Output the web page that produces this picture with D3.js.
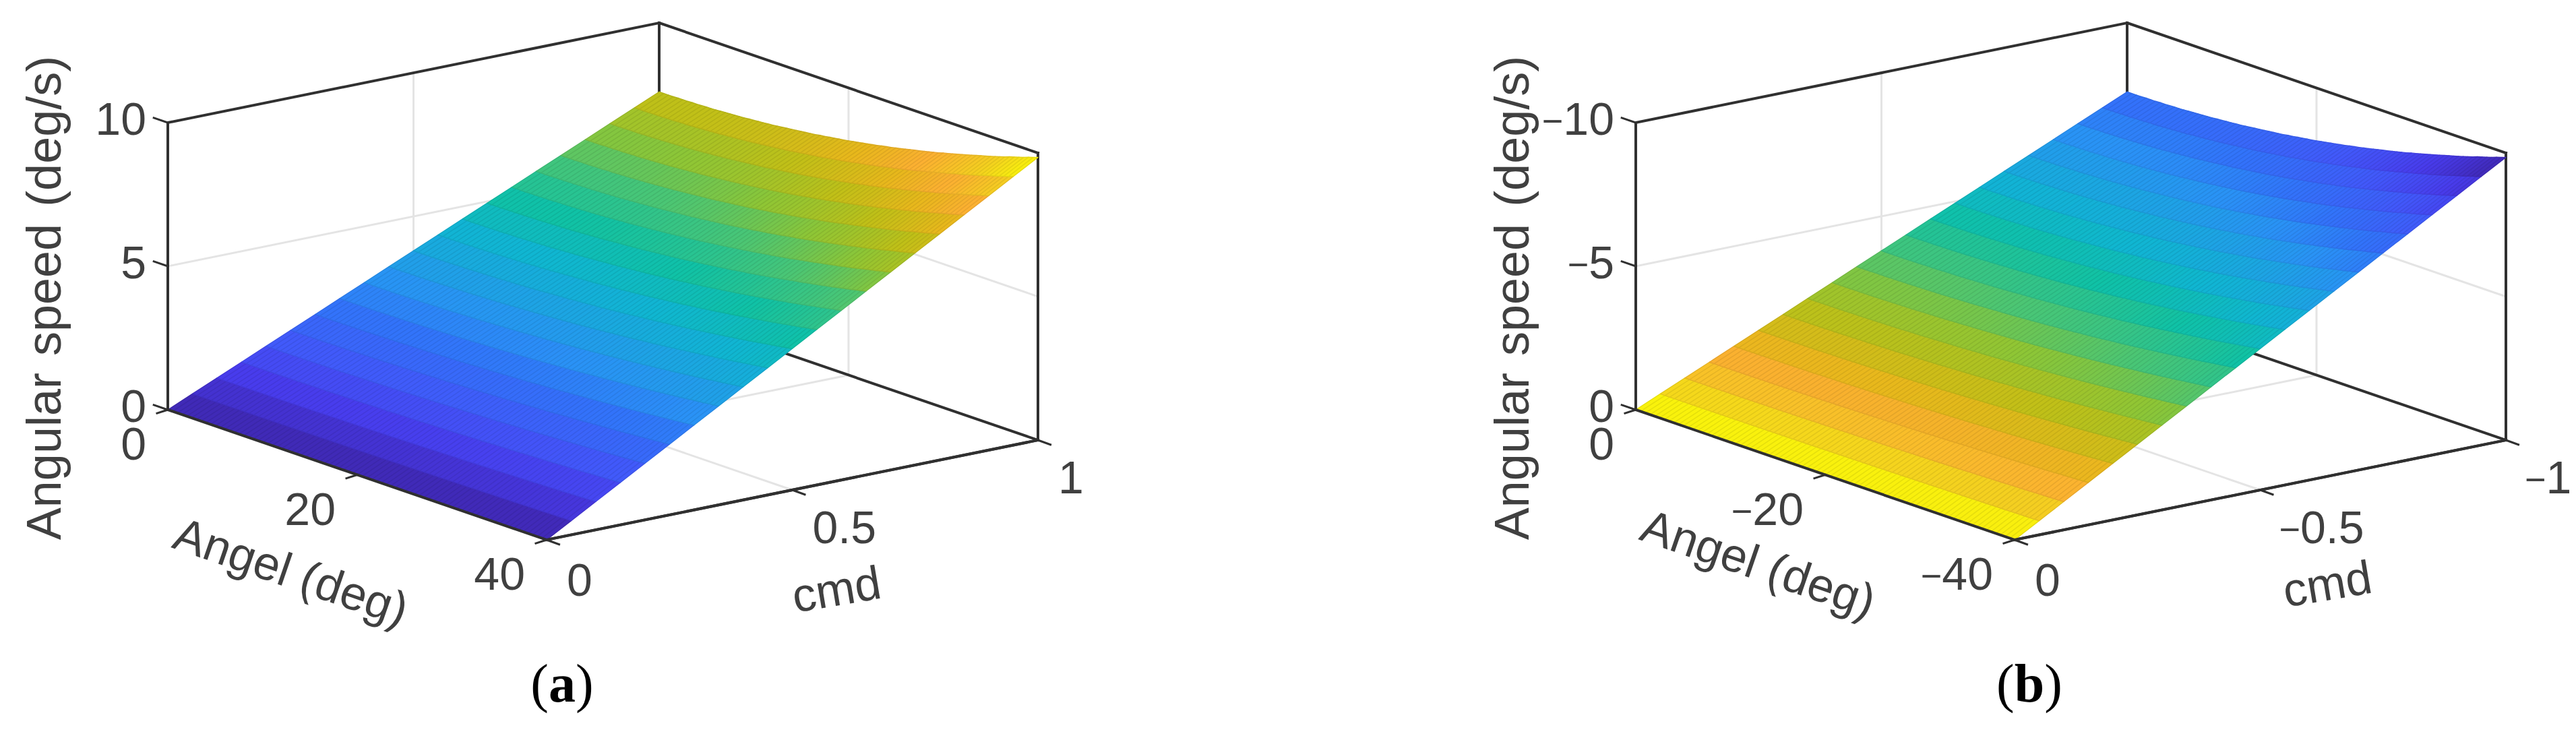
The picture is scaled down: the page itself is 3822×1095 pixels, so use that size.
<!DOCTYPE html>
<html><head><meta charset="utf-8">
<script src="https://cdn.jsdelivr.net/npm/d3@7"></script>
<style>html,body{margin:0;padding:0;background:#fff}svg{display:block}</style>
</head><body><svg id="c" width="3822" height="1095"></svg>
<script>
// ---------- data ----------
const cmdStations = [0,0.05,0.1,0.15,0.2,0.25,0.3,0.35,0.4,0.45,0.5,0.55,0.6,0.65,0.7,0.75,0.8,0.85,0.9,0.95,1];
const angleStations = [0,0.5,1,1.5,2,2.5,3,3.5,4,4.5,5,5.5,6,6.5,7,7.5,8,8.5,9,9.5,10,10.5,11,11.5,12,12.5,13,13.5,14,14.5,15,15.5,16,16.5,17,17.5,18,18.5,19,19.5,20,20.5,21,21.5,22,22.5,23,23.5,24,24.5,25,25.5,26,26.5,27,27.5,28,28.5,29,29.5,30,30.5,31,31.5,32,32.5,33,33.5,34,34.5,35,35.5,36,36.5,37,37.5,38,38.5,39,39.5,40];
// angular speed along the far edge (|cmd| = 1) at each angle station
const speedAtFullCmd = [7.60,7.60,7.60,7.60,7.61,7.61,7.61,7.62,7.62,7.63,7.64,7.64,7.65,7.66,7.67,7.68,7.69,7.70,7.71,7.73,7.74,7.76,7.77,7.79,7.80,7.82,7.84,7.86,7.88,7.90,7.92,7.94,7.96,7.98,8.01,8.03,8.06,8.08,8.11,8.13,8.16,8.19,8.22,8.25,8.28,8.31,8.34,8.38,8.41,8.44,8.48,8.51,8.55,8.59,8.63,8.66,8.70,8.74,8.78,8.82,8.87,8.91,8.95,9.00,9.04,9.09,9.13,9.18,9.23,9.27,9.32,9.37,9.42,9.47,9.53,9.58,9.63,9.68,9.74,9.79,9.85];
const angleTicksA = [0,20,40], cmdTicksA = [0,0.5,1], speedTicksA = [0,5,10];
const angleTicksB = [0,-20,-40], cmdTicksB = [0,-0.5,-1], speedTicksB = [0,-5,-10];
const colormapStops = [0,0.03,0.096,0.167,0.255,0.32,0.39,0.45,0.526,0.617,0.686,0.755,0.82,0.87,0.93,0.97,1];
const colormapColors = ["#3f27ad","#412bbc","#483cec","#4258fa","#3274fa","#2a92f6","#1ca6e2","#10b6d2","#10c2a6","#4cc674","#8ec636","#c0c018","#e8b81c","#fcb032","#f4d020","#f8ec10","#fcfc06"];
const yTitle = "Angular speed (deg/s)", xTitle = "Angel (deg)", cTitle = "cmd";

// ---------- drawing ----------
const svg = d3.select("#c");
const fontSans = "'Liberation Sans',Arial,sans-serif";
const tickCol = "#404040", frameCol = "#303030", gridCol = "#e4e4e4";

function panel(o){
  const g = svg.append("g").attr("transform", `translate(${o.dx},0)`);
  const s = o.sign;
  // oblique projection: each data axis contributes a screen x and y
  const axX = d3.scaleLinear().domain([0, s*40]).range([0, 562]);
  const axY = d3.scaleLinear().domain([0, s*40]).range([0, 193]);
  const cmX = d3.scaleLinear().domain([0, s*1]).range([0, 729]);
  const cmY = d3.scaleLinear().domain([0, s*1]).range([0, -148]);
  const zY  = d3.scaleLinear().domain([0, s*10]).range([0, -426]);
  const P = (a,c,z) => [249 + axX(a) + cmX(c), 608 + axY(a) + cmY(c) + zY(z)];
  const A = s*40, C = s*1, Z = s*10;
  const line = (p,q,col,w) => g.append("line").attr("x1",p[0]).attr("y1",p[1]).attr("x2",q[0]).attr("y2",q[1])
      .attr("stroke",col).attr("stroke-width",w).attr("stroke-linecap","square");

  // grid
  o.zTicks.filter(t=>t!==0 && t!==Z).forEach(t=>{ line(P(0,0,t),P(0,C,t),gridCol,3); line(P(0,C,t),P(A,C,t),gridCol,3); });
  o.cTicks.filter(t=>t!==0 && t!==C).forEach(t=>{ line(P(0,t,0),P(0,t,Z),gridCol,3); line(P(0,t,0),P(A,t,0),gridCol,3); });
  o.aTicks.filter(t=>t!==0 && t!==A).forEach(t=>{ line(P(t,0,0),P(t,C,0),gridCol,3); line(P(t,C,0),P(t,C,Z),gridCol,3); });

  // box lines behind surface
  [[P(0,0,Z),P(0,C,Z)],[P(0,C,Z),P(A,C,Z)],[P(0,C,0),P(0,C,Z)],[P(A,C,0),P(A,C,Z)],[P(0,0,0),P(0,0,Z)],
   [P(0,C,0),P(A,C,0)],[P(A,0,0),P(A,C,0)]].forEach(l=>line(l[0],l[1],frameCol,4));

  // surface
  const t = d3.scaleLinear().domain(o.zDomain).range([0,1]);
  const cm = d3.scaleLinear().domain(colormapStops).range(colormapColors).interpolate(d3.interpolateRgb);
  const surf = g.append("g").attr("stroke-width",1.4).attr("stroke-linejoin","round");
  const Zv = (i,j) => s * cmdStations[j] * speedAtFullCmd[i];
  for (let j=0;j<cmdStations.length-1;j++){
    for (let i=0;i<angleStations.length-1;i++){
      const a0=s*angleStations[i],a1=s*angleStations[i+1],c0=s*cmdStations[j],c1=s*cmdStations[j+1];
      const pts=[P(a0,c0,Zv(i,j)),P(a1,c0,Zv(i+1,j)),P(a1,c1,Zv(i+1,j+1)),P(a0,c1,Zv(i,j+1))];
      const col=d3.color(cm(t(d3.mean([Zv(i,j),Zv(i+1,j),Zv(i+1,j+1),Zv(i,j+1)]))));
      surf.append("polygon").attr("points",pts.join(" ")).attr("fill",col)
        .attr("stroke",col.darker(0.22).formatHex());
    }
  }

  // front axes
  line(P(0,0,0),P(A,0,0),frameCol,4);
  line(P(A,0,0),P(A,C,0),frameCol,4);
  // ticks
  o.zTicks.forEach(v=>{const p=P(0,0,v);line(p,[p[0]-axX(s*40)*0.037,p[1]-axY(s*40)*0.037],frameCol,3);});
  o.aTicks.forEach(v=>{const p=P(v,0,0);line(p,[p[0]-cmX(s)*0.022,p[1]-cmY(s)*0.035],frameCol,3);});
  o.cTicks.forEach(v=>{const p=P(A,v,0);line(p,[p[0]+axX(s*40)*0.033,p[1]+axY(s*40)*0.035],frameCol,3);});

  // tick label: a negative number gets the short minus of the source figure
  const tick=(x,y,v,anchor)=>{
    const e=g.append("text").attr("x",x).attr("y",y+24).attr("text-anchor",anchor)
      .attr("font-family",fontSans).attr("font-size",68).attr("fill",tickCol);
    if(v<0){
      e.append("tspan").attr("font-size",54).attr("dy",-2).text("\u2212");
      e.append("tspan").attr("dy",2).text(String(-v));
    } else e.text(String(v));
  };
  o.zTicks.forEach(v=>{const p=P(0,0,v);tick(p[0]-32,p[1]-6,v,"end");});
  o.aTicks.forEach(v=>{const p=P(v,0,0);tick(p[0]-32,p[1]+50,v,"end");});
  o.cTicks.forEach(v=>{const p=P(A,v,0);tick(p[0]+(v<0?28:30),p[1]+(v===0?59:55),v,"start");});

  const text=(x,y,str,anchor,size,rot)=>g.append("text").attr("x",x).attr("y",y).attr("text-anchor",anchor)
      .attr("font-family",fontSans).attr("font-size",size).attr("fill",tickCol)
      .attr("transform",`rotate(${rot} ${x} ${y})`).text(str);
  text(o.yx,442,yTitle,"middle",72,-90).attr("word-spacing",5);
  text(o.ax,o.ay,xTitle,"start",70,19);
  text(o.cx,o.cy,cTitle,"middle",70,-9.5);

  const cap=g.append("text").attr("x",o.capx).attr("y",1041).attr("text-anchor","middle")
    .attr("font-family","'Liberation Serif',serif").attr("font-size",80).attr("fill","#000");
  cap.append("tspan").text("(");
  cap.append("tspan").attr("font-weight","bold").text(o.cap);
  cap.append("tspan").text(")");
}

panel({dx:0,sign:1,zDomain:[0,9.85],aTicks:angleTicksA,cTicks:cmdTicksA,zTicks:speedTicksA,
  yx:90,ax:253,ay:812,cx:1245,cy:898,cap:"a",capx:834});
panel({dx:2178,sign:-1,zDomain:[-9.85,0],aTicks:angleTicksB,cTicks:cmdTicksB,zTicks:speedTicksB,
  yx:90,ax:252,ay:800,cx:1279,cy:890,cap:"b",capx:833});
</script></body></html>
